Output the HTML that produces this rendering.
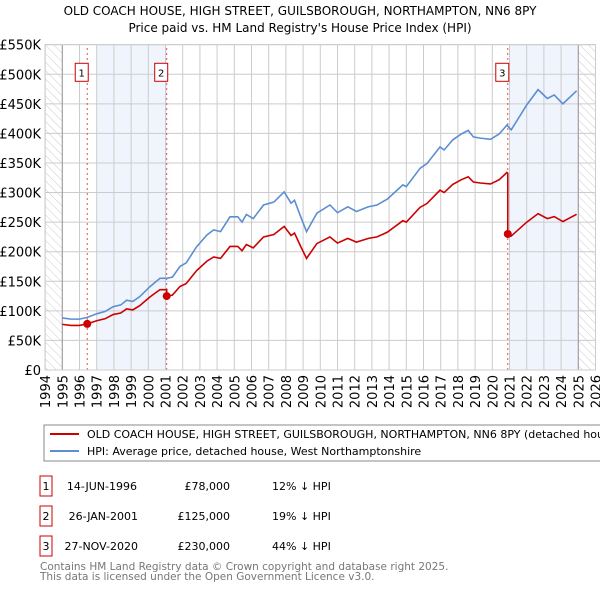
<!DOCTYPE html>
<html><head><meta charset="utf-8"><style>
body{margin:0;background:#fff;font-family:"DejaVu Sans","Liberation Sans",sans-serif;}
svg text{font-family:"DejaVu Sans","Liberation Sans",sans-serif;}
</style></head><body>
<svg id="chart" width="600" height="590" xmlns="http://www.w3.org/2000/svg">
<defs><pattern id="hatch" width="6" height="6" patternUnits="userSpaceOnUse" patternTransform="rotate(-45)"><line x1="0" y1="0" x2="0" y2="6" stroke="#ccc" stroke-width="1"/></pattern></defs>
<text x="300" y="15" text-anchor="middle" font-size="12">OLD COACH HOUSE, HIGH STREET, GUILSBOROUGH, NORTHAMPTON, NN6 8PY</text>
<text x="300" y="32" text-anchor="middle" font-size="12">Price paid vs. HM Land Registry's House Price Index (HPI)</text>
<g id="plot"></g>
<g>
<rect x="44" y="425" width="570" height="36" fill="#fff" stroke="#888"/>
<line x1="50" y1="434" x2="79" y2="434" stroke="#cc0000" stroke-width="2"/>
<text x="87" y="438" font-size="11">OLD COACH HOUSE, HIGH STREET, GUILSBOROUGH, NORTHAMPTON, NN6 8PY (detached house)</text>
<line x1="50" y1="451" x2="79" y2="451" stroke="#5b8fd1" stroke-width="2"/>
<text x="87" y="455" font-size="11">HPI: Average price, detached house, West Northamptonshire</text>
</g>
<g font-size="11">
<rect x="40" y="476" width="12" height="20" fill="#fff" stroke="#cc0000"/><text x="46" y="490" text-anchor="middle">1</text>
<text x="137" y="490" text-anchor="end">14-JUN-1996</text><text x="230" y="490" text-anchor="end">£78,000</text><text x="272" y="490">12% ↓ HPI</text>
<rect x="40" y="506" width="12" height="20" fill="#fff" stroke="#cc0000"/><text x="46" y="520" text-anchor="middle">2</text>
<text x="138" y="520" text-anchor="end">26-JAN-2001</text><text x="230" y="520" text-anchor="end">£125,000</text><text x="272" y="520">19% ↓ HPI</text>
<rect x="40" y="536" width="12" height="20" fill="#fff" stroke="#cc0000"/><text x="46" y="550" text-anchor="middle">3</text>
<text x="138" y="550" text-anchor="end">27-NOV-2020</text><text x="230" y="550" text-anchor="end">£230,000</text><text x="272" y="550">44% ↓ HPI</text>
</g>
<text x="40" y="570" font-size="10.5" fill="#777">Contains HM Land Registry data © Crown copyright and database right 2025.</text>
<text x="40" y="580" font-size="10.5" fill="#777">This data is licensed under the Open Government Licence v3.0.</text>
</svg>
<script>
const hpiYears=[1995.0,1995.5,1996.0,1996.45,1997.0,1997.5,1997.95,1998.4,1998.74,1999.1,1999.5,2000.1,2000.68,2001.07,2001.4,2001.84,2002.2,2002.8,2003.4,2003.8,2004.2,2004.75,2005.2,2005.45,2005.7,2006.1,2006.7,2007.3,2007.9,2008.3,2008.5,2008.9,2009.2,2009.8,2010.56,2011.0,2011.6,2012.1,2012.8,2013.3,2013.9,2014.8,2015.0,2015.8,2016.2,2016.96,2017.2,2017.7,2018.2,2018.6,2018.9,2019.3,2019.9,2020.4,2020.85,2021.1,2022.0,2022.66,2023.2,2023.6,2024.1,2024.9];
const hpiValues=[88,86,86,89,95,99,107,110,118,116,124,141,155,155,157,175,181,208,228,237,234,259,259,250,263,256,279,284,301,282,287,256,234,265,279,266,276,268,276,279,289,313,310,341,349,377,372,389,399,405,394,392,390,399,414,406,448,474,459,465,450,472];
const saleYears=[1996.45,2001.07,2020.9];
const saleValues=[78,125,230];
const saleLabels=["1","2","3"];
const yTicks=[0,50,100,150,200,250,300,350,400,450,500,550];
const yTickLabels=["£0","£50K","£100K","£150K","£200K","£250K","£300K","£350K","£400K","£450K","£500K","£550K"];
const xTicks=[1994,1995,1996,1997,1998,1999,2000,2001,2002,2003,2004,2005,2006,2007,2008,2009,2010,2011,2012,2013,2014,2015,2016,2017,2018,2019,2020,2021,2022,2023,2024,2025,2026];
const X=y=>45.1+(y-1994)*17.2, Y=v=>370-v*0.5915;
const NS='http://www.w3.org/2000/svg', g=document.getElementById('plot');
function mk(t,a){const e=document.createElementNS(NS,t);for(const k in a)e.setAttribute(k,a[k]);g.appendChild(e);return e;}
let e;
e=mk('rect',{x:X(1997),y:Y(550),width:X(2001.07)-X(1997),height:Y(0)-Y(550),fill:'#f0f4fc'});


e=mk('rect',{x:X(2021),y:Y(550),width:X(2025)-X(2021),height:Y(0)-Y(550),fill:'#f0f4fc'});


e=mk('rect',{x:X(1994),y:Y(550),width:X(1995)-X(1994),height:Y(0)-Y(550),fill:'url(#hatch)'});


e=mk('rect',{x:X(2025),y:Y(550),width:X(2026)-X(2025),height:Y(0)-Y(550),fill:'url(#hatch)'});


yTicks.forEach((v,i)=>{
 e=mk('line',{x1:X(1994),x2:X(2026),y1:Y(v),y2:Y(v),stroke:'#ccc'});
 
 
 e=mk('text',{x:41,y:Y(v)+5,'text-anchor':'end','font-size':'13'});e.textContent=yTickLabels[i];
 
 
});
xTicks.forEach(t=>{
 e=mk('line',{x1:X(t),x2:X(t),y1:Y(0),y2:Y(550),stroke:'#ccc'});
 
 
 e=mk('text',{x:0,y:0,'text-anchor':'end','font-size':'13',transform:`translate(${X(t)+5},${Y(0)+5}) rotate(-90)`});e.textContent=t;
 
 
});
e=mk('line',{x1:X(1995),x2:X(1995),y1:Y(0),y2:Y(550),stroke:'#999'});


e=mk('line',{x1:X(2025),x2:X(2025),y1:Y(0),y2:Y(550),stroke:'#999'});


function hpiAt(y){for(let i=0;i<hpiYears.length-1;i++){if(y<=hpiYears[i+1]){const f=(y-hpiYears[i])/(hpiYears[i+1]-hpiYears[i]);return hpiValues[i]+f*(hpiValues[i+1]-hpiValues[i]);}}return hpiValues[hpiValues.length-1];}
const ratios=saleYears.map((s,i)=>saleValues[i]/hpiAt(s));
function ratioAt(y){let r=ratios[0];for(let i=0;i<saleYears.length;i++)if(y>=saleYears[i])r=ratios[i];return r;}
let redPts=[];
const allY=[...new Set([...hpiYears,...saleYears])].sort((a,b)=>a-b);
allY.forEach(y=>{
 const idx=saleYears.indexOf(y);
 if(idx>0)redPts.push([X(y),Y(hpiAt(y)*ratios[idx-1])]);
 redPts.push([X(y),Y(hpiAt(y)*ratioAt(y))]);
});
saleYears.forEach((s,i)=>{
 e=mk('line',{x1:X(s),x2:X(s),y1:Y(0),y2:Y(550),stroke:'#e05050','stroke-dasharray':'2,3'});
 
 
});
e=mk('polyline',{points:hpiYears.map((y,i)=>X(y)+','+Y(hpiValues[i])).join(' '),fill:'none',stroke:'#5b8fd1','stroke-width':'1.6'});


e=mk('polyline',{points:redPts.map(p=>p.join(',')).join(' '),fill:'none',stroke:'#cc0000','stroke-width':'1.6'});


saleYears.forEach((s,i)=>{
 e=mk('circle',{cx:X(s),cy:Y(saleValues[i]),r:4,fill:'#cc0000'});
 
 
 e=mk('rect',{x:X(s)-12,y:Y(505)-8,width:13,height:18,fill:'#fff',stroke:'#cc0000'});
 
 
 e=mk('text',{x:X(s)-5.5,y:Y(505)+5,'text-anchor':'middle','font-size':'10'});e.textContent=saleLabels[i];
 
 
});
e=mk('rect',{x:X(1994),y:Y(550),width:X(2026)-X(1994),height:Y(0)-Y(550),fill:'none',stroke:'#ccc'});


</script>
</body></html>
